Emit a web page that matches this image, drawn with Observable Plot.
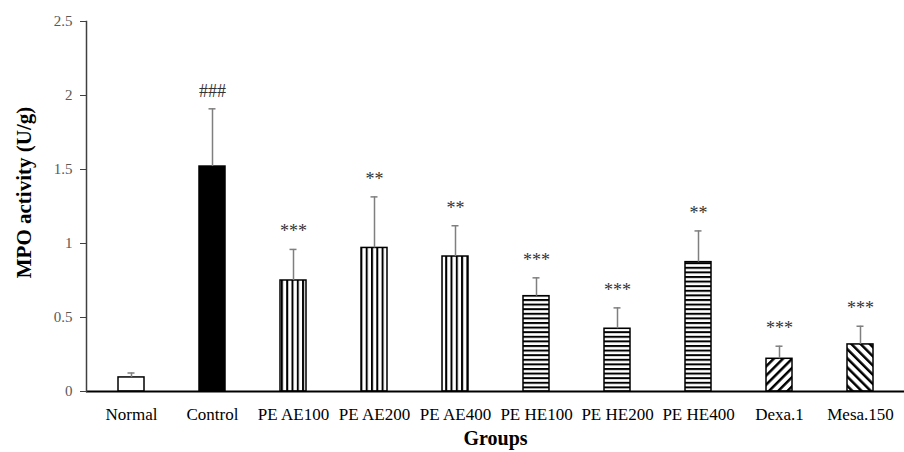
<!DOCTYPE html>
<html>
<head>
<meta charset="utf-8">
<script src="https://cdn.jsdelivr.net/npm/d3@7"></script>
<script src="https://cdn.jsdelivr.net/npm/@observablehq/plot@0.6"></script>
<style>
  html, body { margin: 0; padding: 0; background: #fff; }
</style>
</head>
<body>
<div id="chart"></div>
<script>
const groups = ["Normal", "Control", "PE AE100", "PE AE200", "PE AE400", "PE HE100", "PE HE200", "PE HE400", "Dexa.1", "Mesa.150"];
const means  = [0.095, 1.52, 0.75, 0.97, 0.912, 0.644, 0.424, 0.874, 0.221, 0.318];
const errors = [0.03, 0.39, 0.21, 0.345, 0.208, 0.124, 0.141, 0.211, 0.085, 0.123];
const signif = ["", "###", "***", "**", "**", "***", "***", "**", "***", "***"];
const yTicks = [0, 0.5, 1, 1.5, 2, 2.5];

// fill style per group (presentation only)
const fillFor = {
  "Normal": "white",
  "Control": "black",
  "PE AE100": "url(#vstripe)", "PE AE200": "url(#vstripe)", "PE AE400": "url(#vstripe)",
  "PE HE100": "url(#hstripe)", "PE HE200": "url(#hstripe)", "PE HE400": "url(#hstripe)",
  "Dexa.1": "url(#dstripe)",
  "Mesa.150": "url(#astripe)"
};

const data = groups.map((g, i) => ({group: g, mean: means[i], err: errors[i], top: means[i] + errors[i], label: signif[i]}));

const plot = Plot.plot({
  width: 904,
  height: 452,
  marginLeft: 86,
  marginRight: 0,
  marginTop: 21,
  marginBottom: 61,
  style: {fontFamily: "'Liberation Serif', 'Times New Roman', serif", fontSize: "14px", background: "white"},
  x: {domain: groups, paddingInner: 0.68, paddingOuter: 0.34, label: null},
  y: {domain: [0, 2.5], label: null},
  color: {type: "identity"},
  marks: [
    Plot.barY(data, {x: "group", y: "mean", fill: d => fillFor[d.group], stroke: "black", strokeWidth: 1.5}),
    Plot.ruleX(data, {x: "group", y1: "mean", y2: "top", stroke: "#7f7f7f", strokeWidth: 1.5}),
    Plot.tickY(data, {x: "group", y: "top", stroke: "#7f7f7f", strokeWidth: 1.5, insetLeft: 9.5, insetRight: 9.5}),
    Plot.text(data, {x: "group", y: "top", text: "label", lineAnchor: "bottom", dy: -12, fontSize: 18, fill: "#333"}),
    Plot.ruleY([0], {stroke: "black", strokeWidth: 2}),
    Plot.frame({anchor: "left", stroke: "#404040", strokeWidth: 1.5}),
    Plot.axisY({ticks: yTicks, tickFormat: d => String(d), tickSize: 6, tickPadding: 8, stroke: "#404040", fill: "#595959", fontSize: 15, label: null}),
    Plot.axisX({tickSize: 0, tickPadding: 16, fontSize: 17, fill: "black", label: null}),
    Plot.text(["MPO activity (U/g)"], {frameAnchor: "left", textAnchor: "middle", lineAnchor: "middle", rotate: -90, dx: -62, dy: -14, fontWeight: "bold", fontSize: 21, fill: "black"}),
    Plot.text(["Groups"], {frameAnchor: "bottom", dy: 53, fontWeight: "bold", fontSize: 20, fill: "black"})
  ]
});

// define hatch patterns
const svg = d3.select(plot);
const defs = svg.insert("defs", ":first-child");
function stripe(id, period, thick, rotate) {
  const p = defs.append("pattern").attr("id", id).attr("patternUnits", "userSpaceOnUse")
    .attr("width", period).attr("height", period);
  if (rotate) p.attr("patternTransform", `rotate(${rotate})`);
  p.append("rect").attr("width", period).attr("height", period).attr("fill", "white");
  p.append("rect").attr("x", 0).attr("y", 0).attr("width", thick).attr("height", period).attr("fill", "black");
}
stripe("vstripe", 5.3, 2, 0);
stripe("hstripe", 4.6, 2, 90);
stripe("dstripe", 6.5, 2.5, 45);
stripe("astripe", 6.5, 2.5, -45);

document.getElementById("chart").appendChild(plot);
</script>
</body>
</html>
